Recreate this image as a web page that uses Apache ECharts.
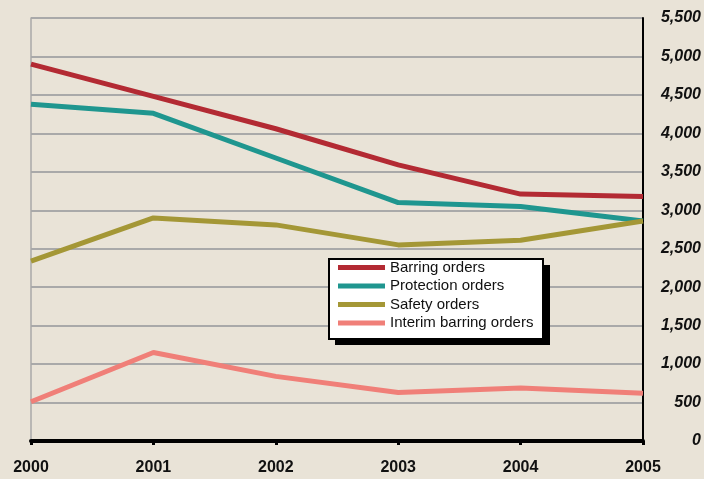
<!DOCTYPE html>
<html><head><meta charset="utf-8">
<script src="https://cdn.jsdelivr.net/npm/echarts@6/dist/echarts.min.js"></script>
<style>html,body{margin:0;padding:0;background:#e9e3d7;}#c{width:704px;height:479px;}</style>
</head><body><div id="c"></div>
<script>
const years = ['2000','2001','2002','2003','2004','2005'];
const barring = [4900, 4480, 4060, 3590, 3210, 3180];
const protection = [4380, 4260, 3680, 3100, 3050, 2860];
const safety = [2340, 2900, 2810, 2550, 2610, 2860];
const interim = [510, 1150, 840, 630, 690, 620];
const names = ['Barring orders','Protection orders','Safety orders','Interim barring orders'];
const colors = ['#b32a33','#1f968f','#a49736','#f07f78'];
const dataSets = [barring, protection, safety, interim];

const chart = echarts.init(document.getElementById('c'));
chart.setOption({
  backgroundColor: '#e9e3d7',
  animation: false,
  grid: {left: 31, right: 61, top: 18, bottom: 38},
  graphic: [
    {type: 'rect', z: 100, shape: {x: 335, y: 265, width: 215, height: 80}, style: {fill: '#000'}},
    {type: 'rect', z: 101, shape: {x: 329, y: 259, width: 214, height: 80},
     style: {fill: '#fff', stroke: '#000', lineWidth: 2}}
  ],
  legend: {
    z: 102, zlevel: 0,
    left: 338, top: 260, orient: 'vertical',
    padding: 0, itemGap: 3.5, itemWidth: 47, itemHeight: 5,
    icon: 'rect',
    textStyle: {fontFamily: 'Liberation Sans', fontSize: 15, color: '#111'},
    data: names
  },
  xAxis: {
    type: 'category', data: years, boundaryGap: false,
    axisLine: {lineStyle: {color: '#000', width: 4}},
    axisTick: {show: true, length: 4, lineStyle: {color: '#000', width: 3}},
    axisLabel: {fontFamily: 'Liberation Sans', fontWeight: 'bold', fontSize: 16, color: '#111', margin: 19}
  },
  yAxis: [{
    type: 'value', position: 'right', min: 0, max: 5500, interval: 500,
    axisLine: {show: true, lineStyle: {color: '#000', width: 2}},
    axisTick: {show: false},
    splitLine: {lineStyle: {color: '#a9a9a9', width: 2}},
    axisLabel: {fontFamily: 'Liberation Sans', fontWeight: 'bold', fontStyle: 'italic', fontSize: 16,
      color: '#111', align: 'right', margin: 58, padding: [0, 0, 5, 0],
      formatter: v => v.toLocaleString('en-US')}
  }, {
    type: 'value', position: 'left', min: 0, max: 5500, interval: 500,
    axisLine: {show: true, lineStyle: {color: '#a9a9a9', width: 1.5}},
    axisTick: {show: false}, axisLabel: {show: false}, splitLine: {show: false}
  }],
  series: dataSets.map((d, i) => ({
    name: names[i], type: 'line', data: d, symbol: 'none',
    lineStyle: {color: colors[i], width: 5}, itemStyle: {color: colors[i]}
  }))
});
</script></body></html>
